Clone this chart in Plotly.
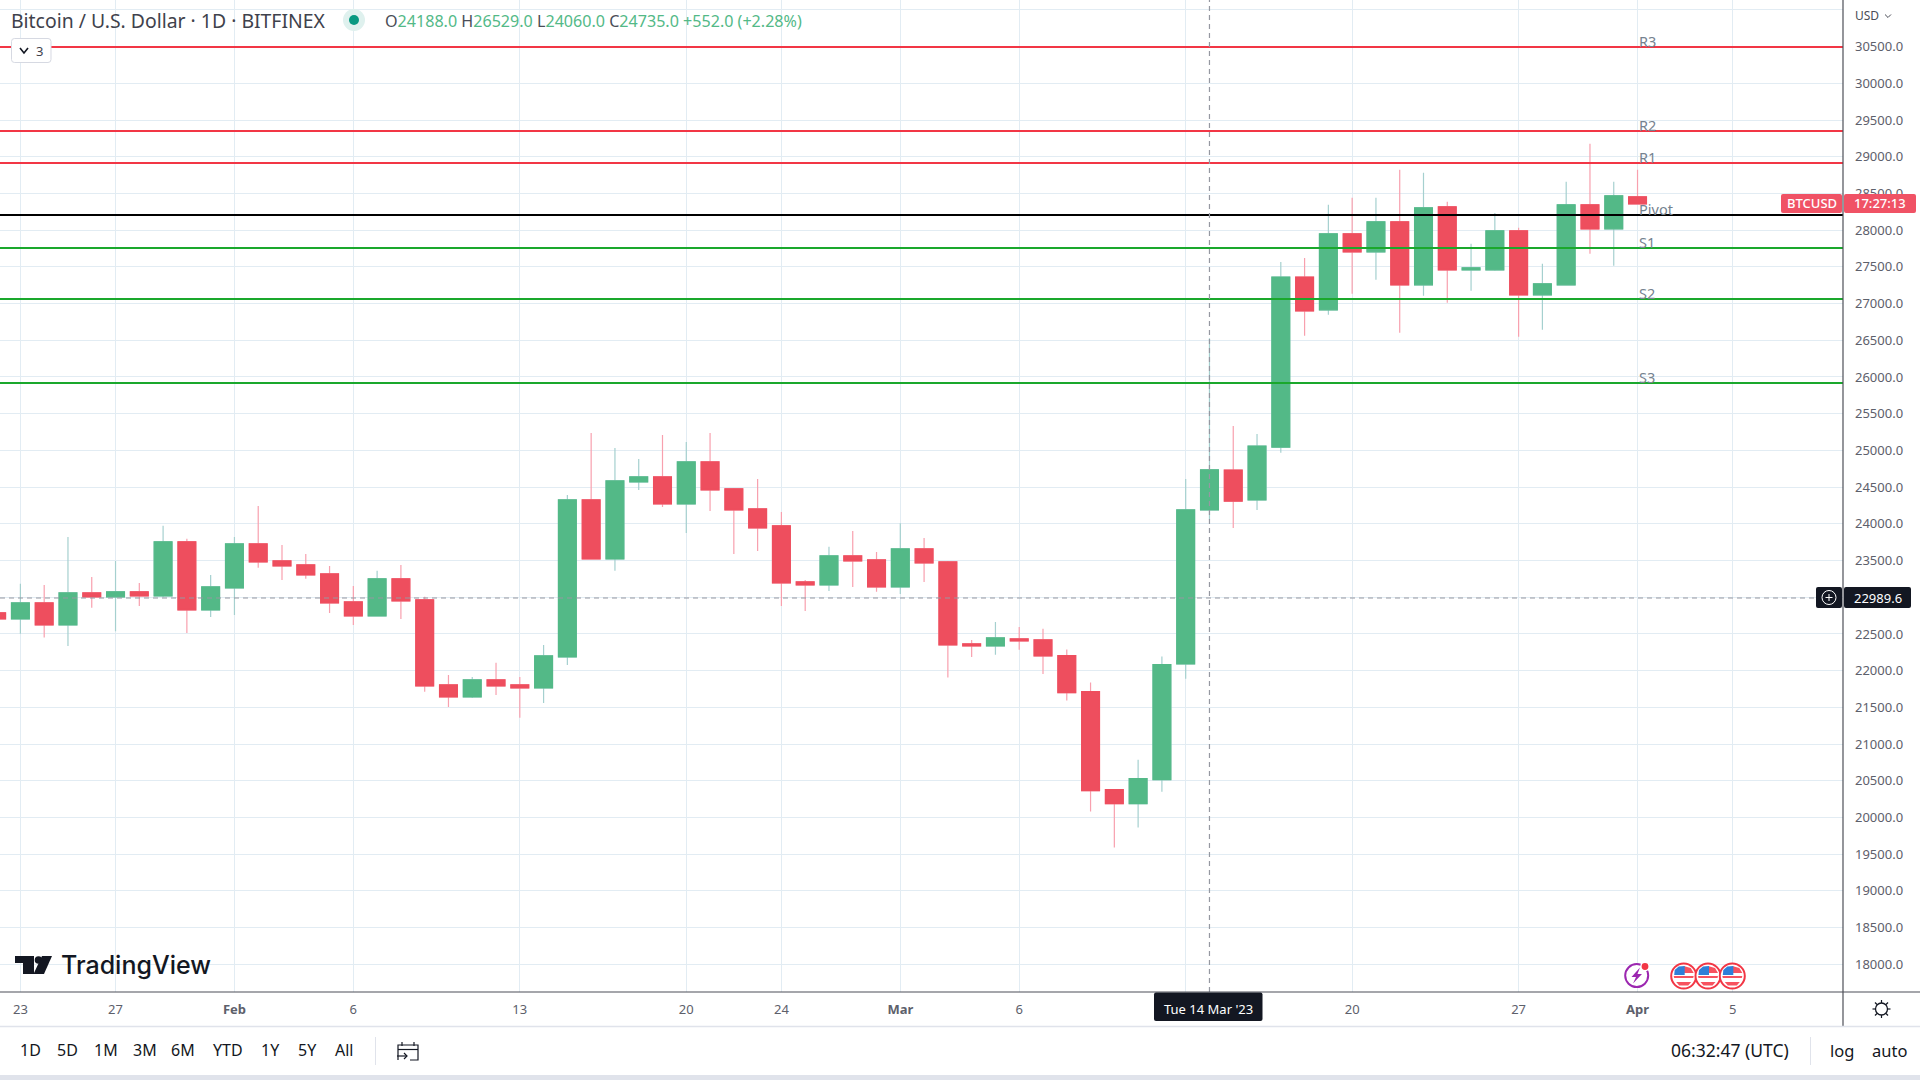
import pandas as pd
import plotly.graph_objects as go

# ---------- data ----------
start_date = "2023-01-22"
opens = [22787,22705,22923,22623,23059,23005,23073,23018,23754,22827,23127,23726,23495,23440,23318,22936,22746,23250,
         22964,21806,21642,21874,21806,21765,22187,24326,23522,24571,24639,24271,24843,24476,24203,23972,23209,23168,
         23563,23508,23141,23658,23481,22364,22337,22432,22419,22205,21715,20380,20189,20516,22092,24188,24732,24324,
         25045,27362,26915,27950,27705,28113,27255,28318,27460,27460,27991,27119,27255,28345,28018,28454]
highs = [22850,23182,23168,23822,23277,23495,23195,23972,23795,23304,23822,24244,23713,23590,23427,23154,23359,23440,
         23005,21942,21915,22106,21915,22351,24394,25238,25034,24884,25211,25116,25238,24489,24612,24162,23236,23686,
         23903,23617,24008,23808,23495,22419,22664,22596,22569,22287,21837,20380,20788,22191,24612,26529,25331,25222,
         27566,27620,28345,28440,28440,28822,28781,28386,27814,28232,28032,27541,28658,29176,28658,28822]
lows = [22650,22501,22451,22337,22855,22537,22882,23000,22514,22732,22759,23400,23236,23250,22786,22623,22746,22705,
        21711,21506,21629,21670,21357,21561,22078,23522,23359,24462,24230,23876,24176,23590,23631,22882,22814,23086,
        23141,23073,23045,23209,21905,22187,22215,22283,21956,21592,20080,19590,19862,20352,21888,24060,23942,24187,
        24968,26561,26847,27133,27324,26602,27106,27010,27174,27446,26547,26643,27255,27678,27514,28359]
closes = [22705,22923,22623,23059,23005,23073,23018,23754,22827,23141,23726,23481,23427,23304,22923,22746,23250,22950,
          21792,21642,21874,21792,21765,22201,24326,23522,24584,24639,24271,24843,24462,24189,23944,23195,23168,23563,
          23495,23141,23658,23468,22351,22337,22446,22405,22201,21701,20366,20189,20530,22082,24189,24735,24310,25059,
          27362,26901,27950,27705,28113,27255,28304,27460,27487,27991,27119,27269,28345,28018,28468,28359]
dates = pd.date_range(start_date, periods=len(opens), freq="D")

level_names = ["R3", "R2", "R1", "Pivot", "S1", "S2", "S3"]
level_values = [30494, 29350, 28914, 28206, 27757, 27063, 25918]
level_colors = ["#f23645", "#f23645", "#f23645", "#000000", "#1aa82c", "#1aa82c", "#1aa82c"]

x_tick_dates = ["2023-01-23","2023-01-27","2023-02-01","2023-02-06","2023-02-13","2023-02-20","2023-02-24",
                "2023-03-01","2023-03-06","2023-03-13","2023-03-20","2023-03-27","2023-04-01","2023-04-05"]
x_tick_text = ["23","27","<b>Feb</b>","6","13","20","24","<b>Mar</b>","6","","20","27","<b>Apr</b>","5"]
y_tick_values = list(range(18000, 31500, 500))
y_tick_text = [f"{v:.1f}" for v in y_tick_values[:-1]] + [""]

crosshair_price = 22989.6
crosshair_date = "2023-03-14"
range_buttons = ["1D", "5D", "1M", "3M", "6M", "YTD", "1Y", "5Y", "All"]

# ---------- layout constants (pixels of the page) ----------
PW, PH = 1843.0, 992.0
FONT = "Noto Sans"
INK = "#131722"
GRID = "#e2ecf3"
GREEN, RED = "#53b987", "#ee4e5e"
GREEN_W, RED_W = "#a5d0cf", "#f8a0ae"
TAG_RED = "#f05265"

def X(p): return p / PW
def Y(p): return 1 - p / PH

shapes, notes = [], []

def paper_shape(**kw):
    kw.setdefault("layer", "above")
    shapes.append(dict(xref="paper", yref="paper", **kw))

def line(x0, y0, x1, y1, color, width=1, dash=None):
    paper_shape(type="line", x0=X(x0), y0=Y(y0), x1=X(x1), y1=Y(y1), line=dict(color=color, width=width, dash=dash))

def rect(x0, y0, x1, y1, fill, lc=None, lw=0):
    paper_shape(type="rect", x0=X(x0), y0=Y(y0), x1=X(x1), y1=Y(y1), fillcolor=fill,
                line=dict(color=lc or fill, width=lw))

def circle(cx, cy, r, fill="rgba(0,0,0,0)", lc="rgba(0,0,0,0)", lw=0):
    paper_shape(type="circle", x0=X(cx - r), y0=Y(cy - r), x1=X(cx + r), y1=Y(cy + r), fillcolor=fill,
                line=dict(color=lc, width=lw))

def poly(points, fill=None, lc="rgba(0,0,0,0)", lw=0, close=True):
    d = "M " + " L ".join(f"{X(a):.6f},{Y(b):.6f}" for a, b in points) + (" Z" if close else "")
    paper_shape(type="path", path=d, fillcolor=fill or "rgba(0,0,0,0)", line=dict(color=lc, width=lw))

def rrect(x0, y0, x1, y1, r, fill, lc=None, lw=0):
    P = lambda a, b: f"{X(a):.6f},{Y(b):.6f}"
    d = (f"M {P(x0+r,y0)} L {P(x1-r,y0)} Q {P(x1,y0)} {P(x1,y0+r)} L {P(x1,y1-r)} Q {P(x1,y1)} {P(x1-r,y1)} "
         f"L {P(x0+r,y1)} Q {P(x0,y1)} {P(x0,y1-r)} L {P(x0,y0+r)} Q {P(x0,y0)} {P(x0+r,y0)} Z")
    paper_shape(type="path", path=d, fillcolor=fill, line=dict(color=lc or fill, width=lw))

def note(x, y, text, size=14, color=INK, anchor="left", family=FONT, **font):
    notes.append(dict(xref="paper", yref="paper", x=X(x), y=Y(y), text=text, showarrow=False, xanchor=anchor,
                      yanchor="middle", borderpad=0, borderwidth=0,
                      font=dict(family=family, size=size, color=color, **font)))

# ---------- figure ----------
fig = go.Figure()
fig.add_trace(go.Candlestick(
    x=dates, open=opens, high=highs, low=lows, close=closes, whiskerwidth=0, hoverinfo="skip", showlegend=False,
    increasing=dict(line=dict(color=GREEN_W, width=1.2), fillcolor=GREEN_W),
    decreasing=dict(line=dict(color=RED_W, width=1.2), fillcolor=RED_W)))
fig.add_trace(go.Candlestick(
    x=dates, open=opens, close=closes, whiskerwidth=0, hoverinfo="skip", showlegend=False,
    high=[max(a, b) for a, b in zip(opens, closes)], low=[min(a, b) for a, b in zip(opens, closes)],
    increasing=dict(line=dict(color=GREEN, width=1.2), fillcolor=GREEN),
    decreasing=dict(line=dict(color=RED, width=1.2), fillcolor=RED)))

# pivot levels
for name, value, color in zip(level_names, level_values, level_colors):
    shapes.append(dict(type="line", xref="paper", yref="y", x0=0, x1=1, y0=value, y1=value, layer="above",
                       line=dict(color=color, width=2)))
    notes.append(dict(xref="x", yref="y", x="2023-04-01", y=value, text=name, showarrow=False, xanchor="left",
                      yanchor="middle", xshift=-1, yshift=6, font=dict(family=FONT, size=14.5, color="#75828f")))

# crosshair
shapes.append(dict(type="line", xref="paper", yref="y", x0=0, x1=1, y0=crosshair_price, y1=crosshair_price,
                   layer="above", line=dict(color="#9598a1", width=1.2, dash="5px,4px")))
shapes.append(dict(type="line", xref="x", yref="paper", x0=crosshair_date, x1=crosshair_date, y0=0, y1=1,
                   layer="above", line=dict(color="#9598a1", width=1.2, dash="5px,4px")))

# frame lines
line(0, 992, 1920, 992, "#4d4f58", 1.2)
line(1843, 0, 1843, 1026, "#4d4f58", 1.2)
line(0, 1026.5, 1920, 1026.5, "#e0e3eb", 1.5)
rect(0, 1075, 1920, 1080, "#e0e3eb")

# legend header
note(11, 21, "Bitcoin / U.S. Dollar · 1D · BITFINEX", 19.4, "#3f424c")
circle(354, 20, 11, fill="#dff1ee")
circle(354, 20, 5, fill="#089981")
g = lambda t: f'<span style="color:{GREEN}">{t}</span>'
note(385, 21, f"O{g('24188.0')} H{g('26529.0')} L{g('24060.0')} C{g('24735.0')} {g('+552.0 (+2.28%)')}", 16.1, "#4a4d57")
rrect(11.5, 38.5, 51, 62.5, 3, "#ffffff", "#d6d9e2", 1)
poly([(20, 48), (24, 53), (28, 48)], lc=INK, lw=1.6, close=False)
note(36, 50.5, "3", 13, "#3f424c")

# price scale extras
note(1855, 16, "USD", 12, "#4a4d57")
poly([(1885, 14.5), (1888, 17.5), (1891, 14.5)], lc="#4a4d57", lw=1, close=False)
rrect(1781, 194, 1842, 213, 2, TAG_RED)
note(1811.5, 203.5, "BTCUSD", 13, "#ffffff", "center", weight=500)
rrect(1844, 194, 1916, 213, 2, TAG_RED)
note(1880, 203.5, "17:27:13", 13, "#ffffff", "center", weight=500)
rrect(1816, 587, 1842, 608, 2, INK)
circle(1829, 597.5, 7, lc="#ffffff", lw=1)
line(1825.5, 597.5, 1832.5, 597.5, "#ffffff", 1)
line(1829, 594, 1829, 601, "#ffffff", 1)
rrect(1844, 587, 1911, 608, 2, INK)
note(1877.5, 597.5, f"{crosshair_price:.1f}", 13, "#ffffff", "center")

# time scale extras
rrect(1154, 992.5, 1262.5, 1021, 2, INK)
note(1208, 1008.5, "Tue 14 Mar '23", 13, "#ffffff", "center")
circle(1881.5, 1009, 6, fill="#ffffff", lc=INK, lw=1.3)
for a, b, c, d in [(1881.5, 1000, 1881.5, 1003), (1881.5, 1015, 1881.5, 1018), (1872.5, 1009, 1875.5, 1009),
                   (1887.5, 1009, 1890.5, 1009), (1875, 1002.5, 1877, 1004.5), (1886, 1013.5, 1888, 1015.5),
                   (1888, 1002.5, 1886, 1004.5), (1877, 1013.5, 1875, 1015.5)]:
    line(a, b, c, d, INK, 1.2)

# bottom toolbar
for cx, label in zip([30, 67, 106, 145, 183, 228, 270, 307, 344], range_buttons):
    note(cx, 1050, label, 16, INK, "center")
line(375.5, 1037, 375.5, 1065, "#e0e3eb", 1)
poly([(398, 1060), (398, 1045), (418, 1045), (418, 1060), (410, 1060)], lc=INK, lw=1.2, close=False)
line(398, 1049.5, 418, 1049.5, INK, 1.2)
line(402, 1042, 402, 1046, INK, 1.2)
line(414, 1042, 414, 1046, INK, 1.2)
line(397, 1056, 407, 1056, INK, 1.2)
poly([(404, 1053), (407, 1056), (404, 1059)], lc=INK, lw=1.2, close=False)
note(1671, 1050, "06:32:47 (UTC)", 17.5, INK)
line(1810.5, 1037, 1810.5, 1065, "#e0e3eb", 1)
note(1842, 1050, "log", 16.5, INK, "center")
note(1889, 1050, "auto", 16.5, INK, "center")

# TradingView logo
poly([(15, 956), (34, 956), (34, 974), (23, 974), (23, 963), (15, 963)], fill=INK)
circle(38.5, 960, 3.8, fill=INK)
poly([(42, 956), (52, 956), (44, 974), (33.5, 974)], fill=INK)
note(61, 965, "TradingView", 25, INK, family="Inter", weight=500)

# event markers
circle(1636.7, 975.6, 11.5, fill="#ffffff", lc="#9c27b0", lw=2)
poly([(1640, 967.5), (1631.5, 977), (1636, 977), (1633, 983.5), (1642, 974), (1637.5, 974)], fill="#9c27b0")
circle(1645, 966.5, 4.8, fill="#ffffff")
circle(1645, 966.5, 3.4, fill="#f23645")
for cx in [1683.7, 1708, 1732.3]:
    cy = 976
    circle(cx, cy, 12.5, fill="#ffffff", lc="#f23645", lw=2)
    poly([(cx, cy - 10), (cx + 7, cy - 8), (cx + 10, cy - 3), (cx, cy - 3)], fill="#f7525f")
    poly([(cx - 9.5, cy + 2), (cx + 9.5, cy + 2), (cx + 10, cy + 0), (cx - 10, cy)], fill="#f7525f")
    poly([(cx - 7.5, cy + 6), (cx + 7.5, cy + 6), (cx + 4.5, cy + 9.5), (cx - 4.5, cy + 9.5)], fill="#f7525f")
    poly([(cx - 9.5, cy - 1), (cx - 9, cy - 6), (cx - 5, cy - 9.5), (cx + 1, cy - 10), (cx + 1, cy - 1)], fill="#2f7fd8")

t0 = pd.Timestamp("2023-01-23")
fig.update_layout(
    width=1920, height=1080, autosize=False, margin=dict(l=0, r=77, t=0, b=88, pad=0),
    paper_bgcolor="#ffffff", plot_bgcolor="#ffffff", boxmode="overlay", boxgap=0.25, boxgroupgap=0,
    showlegend=False, hovermode=False,
    font=dict(family=FONT, size=13, color="#5d606b"),
    shapes=shapes, annotations=notes,
    xaxis=dict(type="date", rangeslider=dict(visible=False),
               range=[t0 - pd.Timedelta(days=0.858), t0 + pd.Timedelta(days=76.64)],
               tickmode="array", tickvals=x_tick_dates, ticktext=x_tick_text, ticks="", ticklabelstandoff=8,
               showgrid=True, gridcolor=GRID, gridwidth=1, zeroline=False, showline=False,
               tickfont=dict(family=FONT, size=13, color="#5d606b")),
    yaxis=dict(side="right", range=[17623, 31134.6], tickmode="array", tickvals=y_tick_values, ticktext=y_tick_text,
               ticks="", ticklabelstandoff=11, showgrid=True, gridcolor=GRID, gridwidth=1, zeroline=False,
               showline=False, tickfont=dict(family=FONT, size=13, color="#5d606b")),
)

fig.write_html("out.html", config=dict(displayModeBar=False),
               post_script="document.body.style.margin='0';document.body.style.overflow='hidden';")
